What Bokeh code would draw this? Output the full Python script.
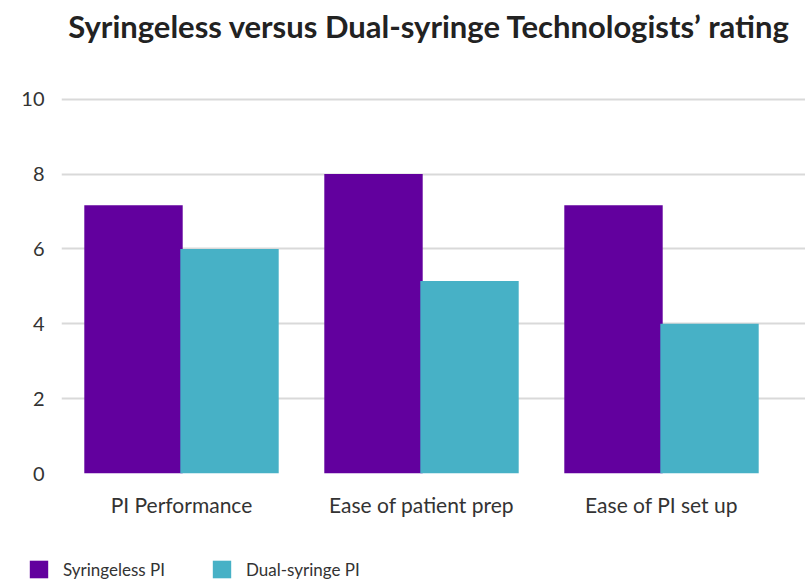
from bokeh.plotting import figure
from bokeh.models import ColumnDataSource, Range1d, Legend, LegendItem, FixedTicker, Label
from bokeh.layouts import column, row
from bokeh.embed import file_html
from bokeh.resources import INLINE

title_text = "Syringeless versus Dual-syringe Technologists’ rating"
categories = ["PI Performance", "Ease of patient prep", "Ease of PI set up"]
syringeless = [7.17, 8.0, 7.17]
dual_syringe = [6.0, 5.14, 4.0]
series_names = ["Syringeless PI", "Dual-syringe PI"]
series_colors = ["#62009E", "#47B1C6"]
y_ticks = [0, 2, 4, 6, 8, 10]

pos = [i + 0.5 for i in range(len(categories))]
source = ColumnDataSource(data=dict(
    x1=[x - 0.2 for x in pos], x2=[x + 0.2 for x in pos],
    syr=syringeless, dual=dual_syringe))

W = 805

# header strip with the title
hd = figure(width=W, height=80, x_range=Range1d(0, W), y_range=Range1d(0, 80),
            x_axis_type=None, y_axis_type=None, output_backend="svg",
            toolbar_location=None, min_border=0)
hd.outline_line_color = None
hd.xgrid.grid_line_color = None
hd.ygrid.grid_line_color = None
hd.add_layout(Label(x=429, y=55, text=title_text, text_align="center",
                    text_baseline="alphabetic", text_font="Lato",
                    text_font_style="bold", text_font_size="31px",
                    text_color="#222222"))

# main chart
p = figure(
    width=W, height=465,
    x_range=Range1d(0, 3.1),
    y_range=Range1d(0, 10.5),
    output_backend="svg", toolbar_location=None,
    min_border_left=61, min_border_right=0, min_border_top=0, min_border_bottom=72,
)
p.outline_line_color = None

p.vbar(x="x1", top="syr", width=0.41, source=source,
       fill_color=series_colors[0], line_color=None)
p.vbar(x="x2", top="dual", width=0.41, source=source,
       fill_color=series_colors[1], line_color=None)

p.xgrid.grid_line_color = None
p.ygrid.grid_line_color = "#d9d9d9"
p.ygrid.grid_line_width = 2
p.yaxis.ticker = FixedTicker(ticks=y_ticks)
p.xaxis.ticker = FixedTicker(ticks=pos)
p.xaxis.major_label_overrides = {x: c for x, c in zip(pos, categories)}

for ax in (p.xaxis[0], p.yaxis[0]):
    ax.axis_line_color = None
    ax.major_tick_line_color = None
    ax.minor_tick_line_color = None
    ax.major_label_text_font = "Lato"
    ax.major_label_text_color = "#333333"

p.yaxis.major_label_text_font_size = "20px"
p.yaxis.major_label_standoff = 11
p.xaxis.major_label_text_font_size = "21px"
p.xaxis.major_label_standoff = 12

# legend strip below the chart
lg = figure(width=W, height=35, x_range=Range1d(0, 1), y_range=Range1d(0, 1),
            x_axis_type=None, y_axis_type=None, output_backend="svg",
            toolbar_location=None, min_border=0)
lg.outline_line_color = None
lg.xgrid.grid_line_color = None
lg.ygrid.grid_line_color = None
items = []
for name, col in zip(series_names, series_colors):
    r = lg.vbar(x=[5], top=[1], width=0.1, fill_color=col, line_color=None)
    items.append(LegendItem(label=name, renderers=[r]))
legend = Legend(
    items=items, orientation="horizontal", location=(27, 0),
    label_text_font="Lato", label_text_font_size="17px", label_text_color="#333333",
    glyph_width=23, glyph_height=22, spacing=45, label_standoff=13,
    border_line_color=None, background_fill_alpha=0, padding=0, margin=0,
)
lg.add_layout(legend, "center")

layout = column(row(hd), p, row(lg), spacing=0)
open("out.html", "w").write(file_html(layout, INLINE))
